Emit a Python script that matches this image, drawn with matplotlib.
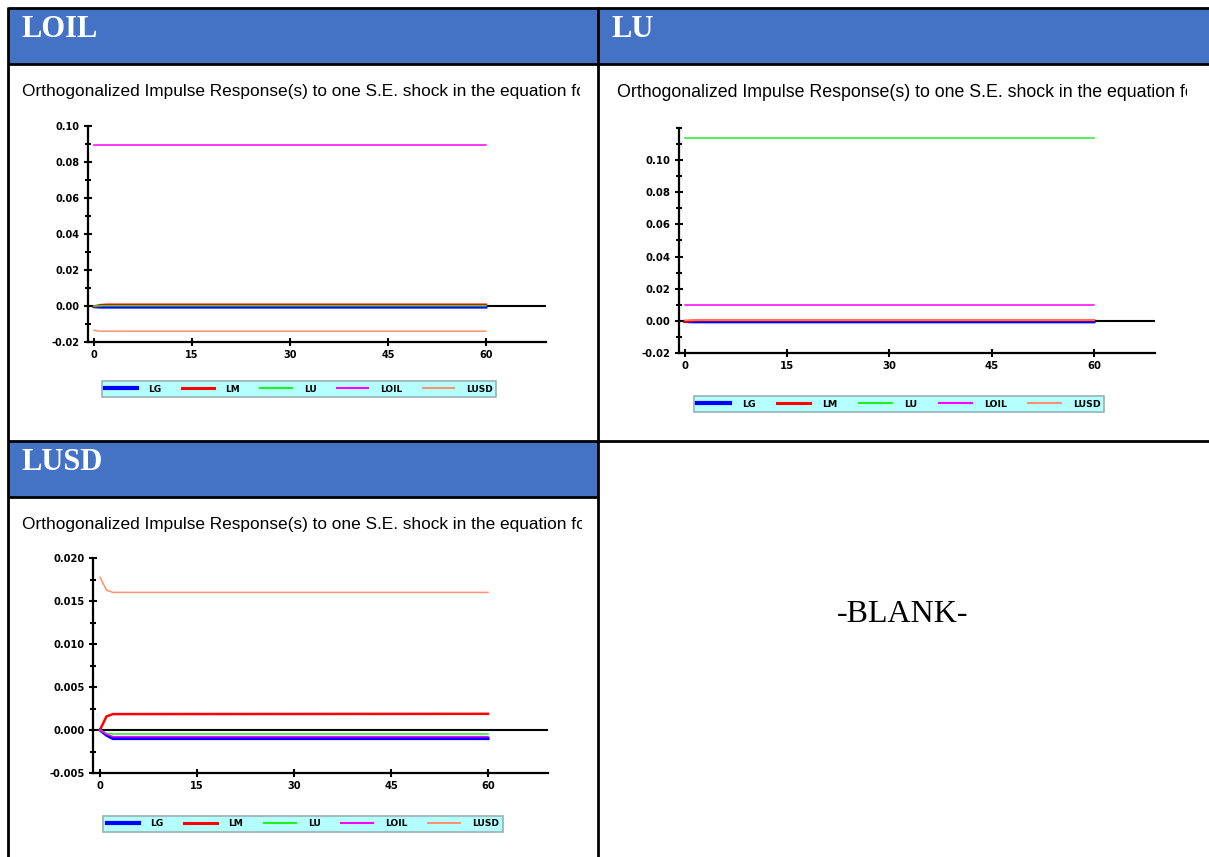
import numpy as np
import matplotlib.pyplot as plt
from matplotlib.patches import Rectangle
from matplotlib.ticker import FixedLocator, MultipleLocator, FormatStrFormatter

W, H = 1209, 857

# horizons where the responses can be read (flat afterwards up to 60)
periods = [0, 1, 2, 60]
names = ["LG", "LM", "LU", "LOIL", "LUSD"]
colors = ["#0000ff", "#ff0000", "#22ee22", "#ff00ff", "#ff9070"]
widths = [2.2, 1.8, 1.1, 1.1, 1.1]

# shock in the equation for LOIL
loil_lg = [-0.0004, -0.0006, -0.0006, -0.0006]
loil_lm = [-0.0003, 0.0005, 0.0007, 0.0007]
loil_lu = [0.0000, 0.0001, 0.0001, 0.0001]
loil_loil = [0.0893, 0.0893, 0.0893, 0.0893]
loil_lusd = [-0.0135, -0.0140, -0.0140, -0.0140]

# shock in the equation for LU
lu_lg = [-0.0004, -0.0006, -0.0006, -0.0006]
lu_lm = [-0.0005, 0.0002, 0.0004, 0.0004]
lu_lu = [0.1137, 0.1137, 0.1137, 0.1137]
lu_loil = [0.0098, 0.0098, 0.0098, 0.0098]
lu_lusd = [0.0008, 0.0008, 0.0008, 0.0008]

# shock in the equation for LUSD
lusd_lg = [0.0, -0.0006, -0.0010, -0.0010]
lusd_lm = [0.0, 0.00158, 0.00185, 0.00188]
lusd_lu = [0.0, -0.0004, -0.00046, -0.00046]
lusd_loil = [0.0, -0.0005, -0.00077, -0.00077]
lusd_lusd = [0.01777, 0.01627, 0.0160, 0.0160]

title_txt = "Orthogonalized Impulse Response(s) to one S.E. shock in the equation for "
header_blue = "#4472c4"

fig = plt.figure(figsize=(W / 100, H / 100), dpi=100)

# base layer in pixel coordinates (table look)
base = fig.add_axes([0, 0, 1, 1])
base.set_xlim(0, W)
base.set_ylim(H, 0)
base.axis("off")

base.add_patch(Rectangle((9, 8), 588, 55, color=header_blue, zorder=0))
base.add_patch(Rectangle((598, 8), W - 598, 55, color=header_blue, zorder=0))
base.add_patch(Rectangle((9, 441), 588, 55, color=header_blue, zorder=0))
lk = dict(color="black", lw=2, solid_capstyle="butt")
base.plot([8, W], [8, 8], **lk)
base.plot([8, W], [63.5, 63.5], **lk)
base.plot([8, W], [440.5, 440.5], **lk)
base.plot([8, 597], [496.5, 496.5], **lk)
base.plot([8, 8], [7, H], **lk)
base.plot([597.5, 597.5], [7, H], **lk)

hdr = dict(color="white", fontsize=22, fontweight="bold", family="Liberation Serif", va="center")
base.text(22, 29, "LOIL", **hdr)
base.text(612, 29, "LU", **hdr)
base.text(22, 462, "LUSD", **hdr)
base.text(903, 614, "-BLANK-", fontsize=23, family="Liberation Serif", ha="center", va="center")


def px(x0, y0, x1, y1):
    return [x0 / W, 1 - y1 / H, (x1 - x0) / W, (y1 - y0) / H]


def panel(box, xlim, ylim, majors, minor, fmt, series, title_xy, clip_x, legend_c, s, ts):
    ax = fig.add_axes(px(*box))
    ax.set_xlim(*xlim)
    ax.set_ylim(*ylim)
    ax.patch.set_visible(False)
    ax.axhline(0, color="black", lw=1.5, zorder=1)
    for vals, c, lw, n in zip(series, colors, widths, names):
        ax.plot(periods, vals, color=c, lw=lw, label=n, zorder=2)
    for side in ["top", "right"]:
        ax.spines[side].set_visible(False)
    for side in ["left", "bottom"]:
        ax.spines[side].set_linewidth(1.6)
    ax.yaxis.set_major_locator(FixedLocator(majors))
    ax.yaxis.set_minor_locator(MultipleLocator(minor))
    ax.yaxis.set_major_formatter(FormatStrFormatter(fmt))
    ax.set_xticks([0, 15, 30, 45, 60])
    ax.tick_params(axis="both", which="major", direction="inout", length=6, width=1.5,
                   labelsize=7 * s, pad=3)
    ax.tick_params(axis="y", which="minor", direction="inout", length=5, width=1.5)
    for lab in ax.get_xticklabels() + ax.get_yticklabels():
        lab.set_fontweight("bold")

    # chart title, cut at the edge of the chart picture like in the source
    t = base.text(title_xy[0], title_xy[1], title_txt, fontsize=12.45 * ts,
                  family="Liberation Sans", va="center", clip_on=True)
    t.set_clip_path(Rectangle((title_xy[0] - 5, title_xy[1] - 20), clip_x - title_xy[0] + 5, 40,
                              transform=base.transData))

    leg = ax.legend(loc="center", bbox_to_anchor=(legend_c[0] / W, 1 - legend_c[1] / H),
                    bbox_transform=fig.transFigure, ncol=5, fancybox=False,
                    facecolor="#b4ffff", edgecolor="#9ab0b0", framealpha=1,
                    prop=dict(size=6.5 * s, weight="bold"), handlelength=3.5,
                    handletextpad=1.3, columnspacing=2.25, borderpad=0.35, borderaxespad=0)
    for ln, lw in zip(leg.get_lines(), [3.0, 2.2, 1.5, 1.5, 1.5]):
        ln.set_linewidth(lw)
    leg.get_frame().set_linewidth(1.2)
    return ax


panel((88, 126, 546, 342), (-0.92, 69.2), (-0.02, 0.10), np.arange(-0.02, 0.101, 0.02), 0.01, "%.2f",
      [loil_lg, loil_lm, loil_lu, loil_loil, loil_lusd], (22, 91), 580, (299, 389), 1.0, 1.0)
panel((679, 128, 1155, 353), (-0.88, 68.95), (-0.02, 0.12), np.arange(-0.02, 0.101, 0.02), 0.01, "%.2f",
      [lu_lg, lu_lm, lu_lu, lu_loil, lu_lusd], (617, 92), 1187, (899, 404), 1.044, 1.03)
panel((93, 558, 548, 773), (-1.08, 69.27), (-0.005, 0.020), np.arange(-0.005, 0.0201, 0.005), 0.0025, "%.3f",
      [lusd_lg, lusd_lm, lusd_lu, lusd_loil, lusd_lusd], (22, 524), 582, (303, 824), 1.015, 1.0)

fig.savefig("out.png", dpi=100)
